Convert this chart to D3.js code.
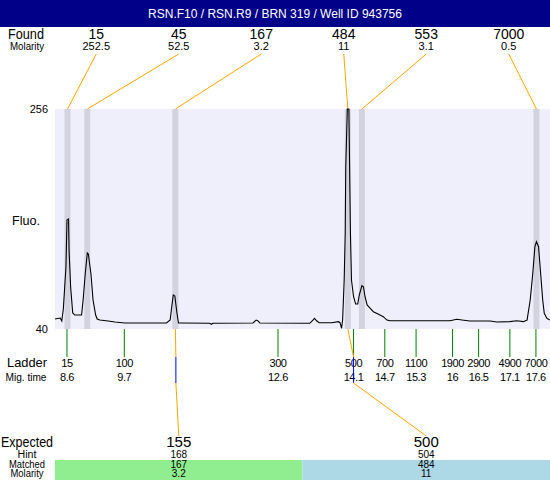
<!DOCTYPE html>
<html>
<head>
<meta charset="utf-8">
<script src="https://cdn.jsdelivr.net/npm/d3@7"></script>
<style>
  body { margin: 0; background: #fff; }
  text { font-family: "Liberation Sans", Arial, sans-serif; fill: #000; }
</style>
</head>
<body>
<div id="chart"></div>
<script>
var title = "RSN.F10 / RSN.R9 / BRN 319 / Well ID 943756";

// found peaks
var foundSizes = ["15", "45", "167", "484", "553", "7000"];
var foundMolarity = ["252.5", "52.5", "3.2", "11", "3.1", "0.5"];
var foundTimes = [8.61, 8.99, 10.68, 13.99, 14.26, 17.61];

// ladder
var ladderSizes = ["15", "100", "300", "500", "700", "1100", "1900", "2900", "4900", "7000"];
var ladderTimes = [8.6, 9.7, 12.65, 14.1, 14.7, 15.3, 16.0, 16.5, 17.1, 17.6];
var ladderTimeLabels = ["8.6", "9.7", "12.6", "14.1", "14.7", "15.3", "16", "16.5", "17.1", "17.6"];

// expected fragments
var expectedSizes = ["155", "500"];
var expectedHint = ["168", "504"];
var expectedTimes = [10.69, 14.1];
var matchedSizes = ["167", "484"];
var matchedTimes = [10.68, 13.99];
var matchedMolarity = ["3.2", "11"];
var matchedColors = ["#90ee90", "#add8e6"];

// electropherogram trace
var traceTime = [8.37, 8.47, 8.50, 8.53, 8.58, 8.60, 8.63, 8.64, 8.67, 8.71, 8.75, 8.88, 8.91, 8.95, 8.99, 9.01,
  9.06, 9.10, 9.15, 9.18, 9.23, 9.39, 9.52, 9.71, 10.51, 10.58, 10.61, 10.64, 10.67, 10.71, 10.74, 10.83,
  11.34, 11.37, 11.40, 12.17, 12.23, 12.27, 12.30, 13.26, 13.32, 13.35, 13.39, 13.44, 13.68, 13.81, 13.84,
  13.87, 13.89, 13.92, 13.94, 13.95, 13.98, 14.01, 14.02, 14.04, 14.06, 14.10, 14.14, 14.18, 14.21, 14.26,
  14.29, 14.32, 14.36, 14.42, 14.48, 14.57, 14.67, 14.74, 14.80, 15.95, 16.08, 16.18, 16.33, 16.72, 16.85,
  17.10, 17.23, 17.36, 17.43, 17.49, 17.54, 17.58, 17.61, 17.65, 17.69, 17.73, 17.76, 17.81, 17.87];
var traceFluo = [49.8, 50.8, 47.9, 59.6, 100.9, 147.0, 148.0, 117.6, 81.2, 55.7, 53.7, 53.7, 68.5, 94.0, 114.6, 113.6,
  94.0, 68.5, 53.7, 49.8, 48.8, 47.9, 46.9, 45.9, 45.9, 48.8, 61.6, 73.4, 72.4, 55.7, 45.9, 45.9,
  45.6, 44.6, 45.6, 45.9, 48.8, 47.9, 45.9, 45.6, 48.8, 50.5, 48.1, 46.2, 46.2, 47.2, 46.2,
  40.7, 48.8, 88.1, 134.3, 199.3, 256, 256, 215.7, 134.3, 88.1, 71.7, 64.5, 64.5, 73.4, 82.5,
  81.5, 71.7, 63.6, 60.3, 57.0, 54.7, 52.1, 48.8, 48.1, 48.1, 49.5, 48.8, 47.9, 47.9, 46.9,
  47.2, 48.1, 47.2, 48.8, 68.5, 94.7, 120.8, 125.7, 120.8, 94.7, 68.5, 55.4, 50.5, 48.8];
var fluoTicks = [40, 256];

var width = 550, height = 480;
var plotLeft = 55, plotRight = 550, plotTop = 109, plotBottom = 329;

var svg = d3.select("#chart")
    .append("svg")
    .attr("width", width)
    .attr("height", height);

var x = d3.scaleLinear().domain([8.37, 17.87]).range([plotLeft, plotRight]);
var y = d3.scaleLinear().domain([40, 256]).range([plotBottom, plotTop]);
var foundScale = d3.scaleBand().domain(d3.range(foundSizes.length)).range([plotLeft, plotRight]);
var expectedScale = d3.scaleBand().domain(d3.range(expectedSizes.length)).range([plotLeft, plotRight]);

function rowLabel(txt, cx, by, size, len) {
    svg.append("text")
        .attr("x", cx - len / 2).attr("y", by)
        .attr("textLength", len)
        .attr("lengthAdjust", "spacingAndGlyphs")
        .style("font-size", size)
        .text(txt);
}

// title bar
svg.append("rect")
    .attr("width", width).attr("height", 27)
    .style("fill", "#000088");
svg.append("text")
    .attr("x", width / 2).attr("y", 18)
    .attr("text-anchor", "middle")
    .style("font-size", "12px")
    .style("fill", "#fff")
    .text(title);

// found row
rowLabel("Found", 26, 39, "14px", 36);
rowLabel("Molarity", 27, 50, "11px", 34);

var found = svg.selectAll("g.found")
    .data(foundSizes)
    .enter()
    .append("g")
    .attr("class", "found");

found.append("text")
    .attr("x", function (d, i) { return foundScale(i) + foundScale.bandwidth() / 2; })
    .attr("y", 39)
    .attr("text-anchor", "middle")
    .style("font-size", "14px")
    .text(function (d) { return d; });

found.append("text")
    .attr("x", function (d, i) { return foundScale(i) + foundScale.bandwidth() / 2; })
    .attr("y", 50)
    .attr("text-anchor", "middle")
    .style("font-size", "11px")
    .text(function (d, i) { return foundMolarity[i]; });

// plot background
svg.append("rect")
    .attr("x", plotLeft).attr("y", plotTop)
    .attr("width", plotRight - plotLeft).attr("height", plotBottom - plotTop)
    .style("fill", "#efeffb");

// peak bands
svg.selectAll("rect.band")
    .data(foundTimes)
    .enter()
    .append("rect")
    .attr("class", "band")
    .attr("x", function (d) { return x(d) - 3; })
    .attr("y", plotTop)
    .attr("width", 6)
    .attr("height", plotBottom - plotTop)
    .style("fill", "#d3d3e0");

// found connectors
found.append("line")
    .attr("x1", function (d, i) { return foundScale(i) + foundScale.bandwidth() / 2; })
    .attr("y1", 54)
    .attr("x2", function (d, i) { return x(foundTimes[i]); })
    .attr("y2", plotTop)
    .style("stroke", "#ffa500")
    .style("stroke-width", 1);

// trace
var line = d3.line()
    .x(function (d) { return x(d[0]); })
    .y(function (d) { return y(d[1]); });

svg.append("path")
    .datum(d3.zip(traceTime, traceFluo))
    .attr("d", line)
    .style("fill", "none")
    .style("stroke", "#000")
    .style("stroke-width", 1.1);

// y labels
svg.selectAll("text.ytick")
    .data(fluoTicks)
    .enter()
    .append("text")
    .attr("class", "ytick")
    .attr("x", 48)
    .attr("y", function (d) { return y(d) + 4; })
    .attr("text-anchor", "end")
    .style("font-size", "11px")
    .text(function (d) { return d; });
rowLabel("Fluo.", 26, 225, "13px", 28);

// ladder
svg.selectAll("line.ladder")
    .data(ladderTimes)
    .enter()
    .append("line")
    .attr("class", "ladder")
    .attr("x1", function (d) { return x(d); })
    .attr("x2", function (d) { return x(d); })
    .attr("y1", plotBottom)
    .attr("y2", 357)
    .style("stroke", "#007f00")
    .style("stroke-width", 1);

svg.selectAll("text.ladderSize")
    .data(ladderSizes)
    .enter()
    .append("text")
    .attr("class", "ladderSize")
    .attr("x", function (d, i) { return x(ladderTimes[i]); })
    .attr("y", 367)
    .attr("text-anchor", "middle")
    .style("font-size", "11px")
    .style("letter-spacing", "-0.4px")
    .text(function (d) { return d; });

svg.selectAll("text.ladderTime")
    .data(ladderTimeLabels)
    .enter()
    .append("text")
    .attr("class", "ladderTime")
    .attr("x", function (d, i) { return x(ladderTimes[i]); })
    .attr("y", 381)
    .attr("text-anchor", "middle")
    .style("font-size", "11px")
    .style("letter-spacing", "-0.4px")
    .text(function (d) { return d; });

rowLabel("Ladder", 27, 367, "13px", 40);
rowLabel("Mig. time", 26, 381, "11px", 41);

// expected connectors
var expected = svg.selectAll("g.expected")
    .data(expectedSizes)
    .enter()
    .append("g")
    .attr("class", "expected");

expected.append("polyline")
    .attr("points", function (d, i) {
        return [[x(matchedTimes[i]), plotBottom], [x(expectedTimes[i]), 357]].join(" ");
    })
    .style("fill", "none").style("stroke", "#ffa500");
expected.append("line")
    .attr("x1", function (d, i) { return x(expectedTimes[i]); })
    .attr("x2", function (d, i) { return x(expectedTimes[i]); })
    .attr("y1", 357).attr("y2", 383)
    .style("stroke", "#0000ff");
expected.append("line")
    .attr("x1", function (d, i) { return x(expectedTimes[i]); })
    .attr("y1", 383)
    .attr("x2", function (d, i) { return expectedScale(i) + expectedScale.bandwidth() / 2; })
    .attr("y2", 436)
    .style("stroke", "#ffa500");

// matched bars
expected.append("rect")
    .attr("x", function (d, i) { return expectedScale(i); })
    .attr("y", 460)
    .attr("width", expectedScale.bandwidth())
    .attr("height", 20)
    .style("fill", function (d, i) { return matchedColors[i]; });

var rows = [
    { y: 447, size: "15px", values: expectedSizes },
    { y: 458, size: "10px", values: expectedHint },
    { y: 468, size: "10px", values: matchedSizes },
    { y: 477, size: "10px", values: matchedMolarity }
];
rows.forEach(function (r) {
    svg.selectAll(null)
        .data(r.values)
        .enter()
        .append("text")
        .attr("x", function (d, i) { return expectedScale(i) + expectedScale.bandwidth() / 2; })
        .attr("y", r.y)
        .attr("text-anchor", "middle")
        .style("font-size", r.size)
        .text(function (d) { return d; });
});

rowLabel("Expected", 27, 447, "14px", 52);
rowLabel("Hint", 27, 458, "10px", 19);
rowLabel("Matched", 27, 468, "10px", 36);
rowLabel("Molarity", 27, 477, "10px", 33);
</script>
</body>
</html>
